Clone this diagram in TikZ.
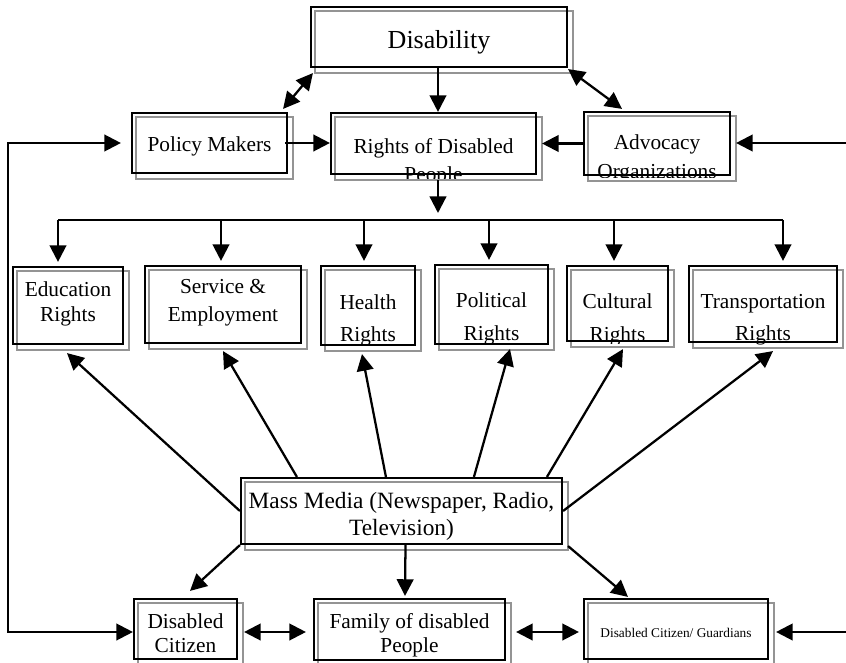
\documentclass[tikz,border=0pt]{standalone}
\usepackage{fontspec}
\setmainfont{Liberation Serif}
\usetikzlibrary{arrows.meta,fit,calc,backgrounds}
\begin{document}
\begin{tikzpicture}[x=0.75pt,y=-0.75pt,
 box/.style={draw=black,line width=1.6pt,inner sep=0pt,rectangle},
 shadebox/.style={draw=black!42,line width=1.6pt},
 txt/.style={anchor=base,inner sep=0pt,font=\fontsize{16}{19}\selectfont},
 ln/.style={line width=1.7pt},
 arr/.style={line width=1.7pt,-{Triangle[length=12.5pt,width=12.5pt]}},
 darr/.style={line width=1.7pt,{Triangle[length=12.5pt,width=12.5pt]}-{Triangle[length=12.5pt,width=12.5pt]}}]
\useasboundingbox (0,0) rectangle (846,663);
% boxes
\node[box,fit={(311,7)(567,67)}] (dis) {};
\node[box,fit={(132,113)(287,173)}] (pm) {};
\node[box,fit={(331,113)(536,174)}] (rod) {};
\node[box,fit={(584,112)(730,175)}] (adv) {};
\node[box,fit={(13,267)(123,344)}] (edu) {};
\node[box,fit={(145,266)(301,343)}] (svc) {};
\node[box,fit={(321,266)(415,345)}] (hea) {};
\node[box,fit={(435,265)(548,344)}] (pol) {};
\node[box,fit={(567,266)(668,341)}] (cul) {};
\node[box,fit={(689,266)(837,342)}] (tra) {};
\node[box,fit={(241,478)(562,544)}] (mm) {};
\node[box,fit={(134,599)(237,659)}] (dc) {};
\node[box,fit={(314,599)(505,660)}] (fam) {};
\node[box,fit={(584,599)(768,659)}] (dcg) {};
\begin{scope}[on background layer]
\foreach \n in {dis,pm,rod,adv,edu,svc,hea,pol,cul,tra,mm,dc,fam,dcg}
  \draw[shadebox] ($(\n.north west)+(5,5)$) rectangle ($(\n.south east)+(5,5)$);
\end{scope}
% texts
\node[txt,font=\fontsize{19.5}{23}\selectfont] (t-dis) at (439,49) {Disability};
\node[txt] (t-pm) at (209.5,152) {Policy Makers};
\begin{scope}
\clip (rod.north west) rectangle ($(rod.south east)+(0,3)$);
\node[txt] (t-rod1) at (433.5,154) {Rights of Disabled};
\node[txt] (t-rod2) at (433.5,182) {People};
\end{scope}
\begin{scope}
\clip (adv.north west) rectangle ($(adv.south east)+(0,1)$);
\node[txt] (t-adv1) at (657,150) {Advocacy};
\node[txt] (t-adv2) at (657,179) {Organizations};
\end{scope}
\node[txt] (t-edu1) at (68,296) {Education};
\node[txt] (t-edu2) at (68,321) {Rights};
\node[txt] (t-svc1) at (223,293) {Service \&};
\node[txt] (t-svc2) at (223,321) {Employment};
\node[txt] (t-hea1) at (368,309) {Health};
\node[txt] (t-hea2) at (368,341) {Rights};
\node[txt] (t-pol1) at (491.5,307) {Political};
\node[txt] (t-pol2) at (491.5,340) {Rights};
\begin{scope}
\clip (cul.north west) rectangle ($(cul.south east)+(0,1)$);
\node[txt] (t-cul1) at (617.5,308) {Cultural};
\node[txt] (t-cul2) at (617.5,341) {Rights};
\end{scope}
\begin{scope}
\clip (tra.north west) rectangle ($(tra.south east)+(0,1)$);
\node[txt] (t-tra1) at (763,308) {Transportation};
\node[txt] (t-tra2) at (763,340) {Rights};
\end{scope}
\node[txt,font=\fontsize{17.5}{21}\selectfont] (t-mm1) at (401.5,508) {Mass Media (Newspaper, Radio,};
\node[txt,font=\fontsize{17.5}{21}\selectfont] (t-mm2) at (401.5,535) {Television)};
\node[txt] (t-dc1) at (185.5,628) {Disabled};
\node[txt] (t-dc2) at (185.5,652) {Citizen};
\node[txt] (t-fam1) at (409.5,628) {Family of disabled};
\node[txt] (t-fam2) at (409.5,652) {People};
\node[txt,font=\fontsize{10}{12}\selectfont] (t-dcg) at (676,637) {Disabled Citizen/ Guardians};
% free ends
\coordinate (rin) at (846,143);
\coordinate (rin2) at (846,632);
\coordinate (lx) at (8,632);
\coordinate (br) at (438,220);
\coordinate (d1) at (58,220);
\coordinate (d2) at (221,220);
\coordinate (d3) at (364,220);
\coordinate (d4) at (489,220);
\coordinate (d5) at (614,220);
\coordinate (d6) at (783,220);
% top connectors
\draw[darr] ($(pm.north east)+(-5,-3)$) -- ($(dis.south west)+(3,5)$);
\draw[arr] (dis.south -| br) -- (rod.north -| br);
\draw[darr] ($(dis.south east)+(0,1)$) -- ($(adv.north)+(-35,-2)$);
\draw[arr] ($(pm.east)+(-3,0)$) -- (pm.east -| rod.west);
\draw[arr] (adv.west) -- ($(adv.west -| rod.east)+(5,0)$);
\draw[arr] (rin) -- ($(adv.east |- rin)+(5,0)$);
\draw[darr] ($(pm.west)+(-10,0)$) -| (lx) -- (dc.west |- lx);
% branch
\draw[arr] ($(rod.south -| br)+(0,5)$) -- ($(br)+(0,-7)$);
\draw[ln] (d1) -- (d6);
\draw[arr] (d1) -- ($(d1 |- edu.north)+(0,-4)$);
\draw[arr] (d2) -- ($(d2 |- svc.north)+(0,-4)$);
\draw[arr] (d3) -- ($(d3 |- hea.north)+(0,-4)$);
\draw[arr] (d4) -- ($(d4 |- pol.north)+(0,-4)$);
\draw[arr] (d5) -- ($(d5 |- cul.north)+(0,-4)$);
\draw[arr] (d6) -- ($(d6 |- tra.north)+(0,-4)$);
% mass media to rights
\draw[arr] (mm.west) -- ($(edu.south)+(-1,8)$);
\draw[arr] ($(mm.north west)+(57,0)$) -- ($(svc.south)+(0,7)$);
\draw[arr] ($(mm.north west)+(146,0)$) -- ($(hea.south)+(-6,8)$);
\draw[arr] ($(mm.north west)+(234,0)$) -- ($(pol.south)+(18.5,4)$);
\draw[arr] ($(mm.north west)+(307,0)$) -- ($(cul.south)+(5.5,7)$);
\draw[arr] (mm.east) -- ($(tra.south)+(10,8)$);
% mass media down
\draw[arr] (mm.south west) -- ($(dc.north)+(4.5,-7)$);
\draw[arr] ($(mm.south)+(4,0)$) -- ($(fam.north)+(-4.5,-2)$);
\draw[arr] ($(mm.south east)+(5,1)$) -- ($(dcg.north)+(-48,-1)$);
% bottom row
\draw[darr] ($(dc.east)+(6,3)$) -- ($(fam.west)+(-7,2.5)$);
\draw[darr] ($(fam.east)+(10,2.5)$) -- ($(dcg.west)+(-4,3)$);
\draw[arr] (rin2) -- ($(dcg.east |- rin2)+(7,0)$);
\end{tikzpicture}
\end{document}
